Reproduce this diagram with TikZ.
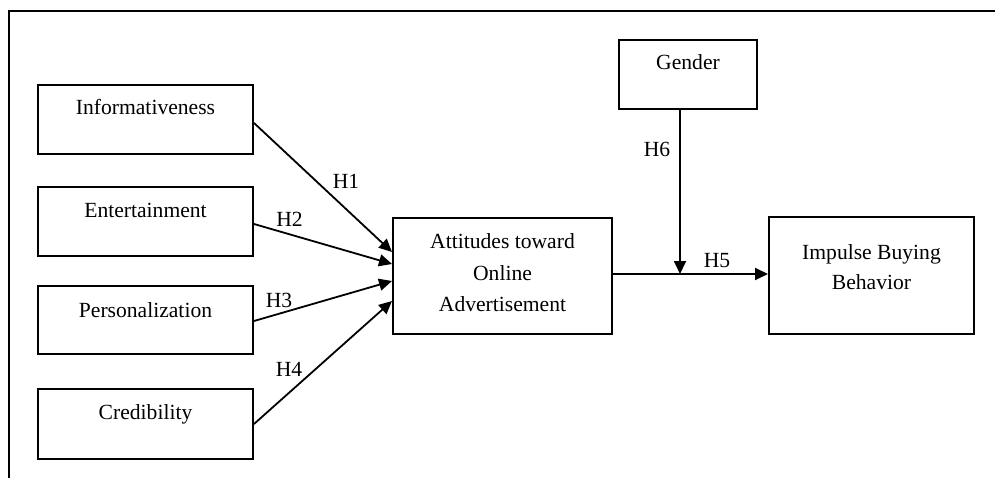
\documentclass[tikz,border=0pt]{standalone}
\usepackage{fontspec}
\setmainfont{Liberation Serif}
\usetikzlibrary{arrows.meta,calc}
\begin{document}
\begin{tikzpicture}[x=1pt,y=-1pt,
  box/.style={draw,line width=2pt,inner sep=0pt,anchor=north west},
  txt/.style={anchor=base,inner sep=0pt,font=\fontsize{21.6}{31}\selectfont},
  conn/.style={line width=1.8pt,-{Triangle[length=13pt,width=12pt]}},
  ]
\useasboundingbox (0,0) rectangle (995,478);
\draw[line width=1.8pt] (9,478) -- (9,11) -- (995,11);
% boxes
\node[box,minimum width=215pt,minimum height=69pt] (info) at (37,84) {};
\node[box,minimum width=215pt,minimum height=69pt] (ent) at (37,186) {};
\node[box,minimum width=215pt,minimum height=68pt] (pers) at (37,285) {};
\node[box,minimum width=215pt,minimum height=70pt] (cred) at (37,388) {};
\node[box,minimum width=219pt,minimum height=116pt] (att) at (392,217) {};
\node[box,minimum width=138pt,minimum height=69pt] (gen) at (618,39) {};
\node[box,minimum width=205pt,minimum height=117pt] (imp) at (768,216) {};
% texts
\node[txt] (tinfo) at ($(info.north)+(0,31)$) {Informativeness};
\node[txt] (tent) at ($(ent.north)+(0,32)$) {Entertainment};
\node[txt] (tpers) at ($(pers.north)+(0,32)$) {Personalization};
\node[txt] (tcred) at ($(cred.north)+(0,31)$) {Credibility};
\node[txt] (tgen) at ($(gen.north)+(0,31)$) {Gender};
\node[txt] (tatt1) at ($(att.north)+(0,32)$) {Attitudes toward};
\node[txt] (tatt2) at ($(att.north)+(0,63)$) {Online};
\node[txt] (tatt3) at ($(att.north)+(0,94)$) {Advertisement};
\node[txt] (timp1) at ($(imp.north)+(0,43)$) {Impulse Buying};
\node[txt] (timp2) at ($(imp.north)+(0,73)$) {Behavior};
% connectors
\draw[conn] ($(info.east)+(0,3.5)$) -- ($(att.north west)+(0,35)$);
\draw[conn] ($(ent.east)+(0,2.5)$) -- ($(att.north west)+(0,47)$);
\draw[conn] ($(pers.east)+(0,1)$) -- ($(att.north west)+(0,64)$);
\draw[conn] (cred.east) -- ($(att.north west)+(0,84)$);
\coordinate (hl) at ($(att.east)+(0,-2)$);
\draw[conn] (hl) -- (hl -| imp.west);
\coordinate (mod) at ($(gen.south)+(-8,0)$);
\draw[conn] (mod) -- (mod |- hl);
% labels
\node[txt] (h1) at (346,189) {H1};
\node[txt] (h2) at (289.5,227) {H2};
\node[txt] (h3) at (279,307) {H3};
\node[txt] (h4) at (289,376) {H4};
\node[txt] (h5) at (717,267) {H5};
\node[txt] (h6) at (657,157) {H6};
\end{tikzpicture}
\end{document}
